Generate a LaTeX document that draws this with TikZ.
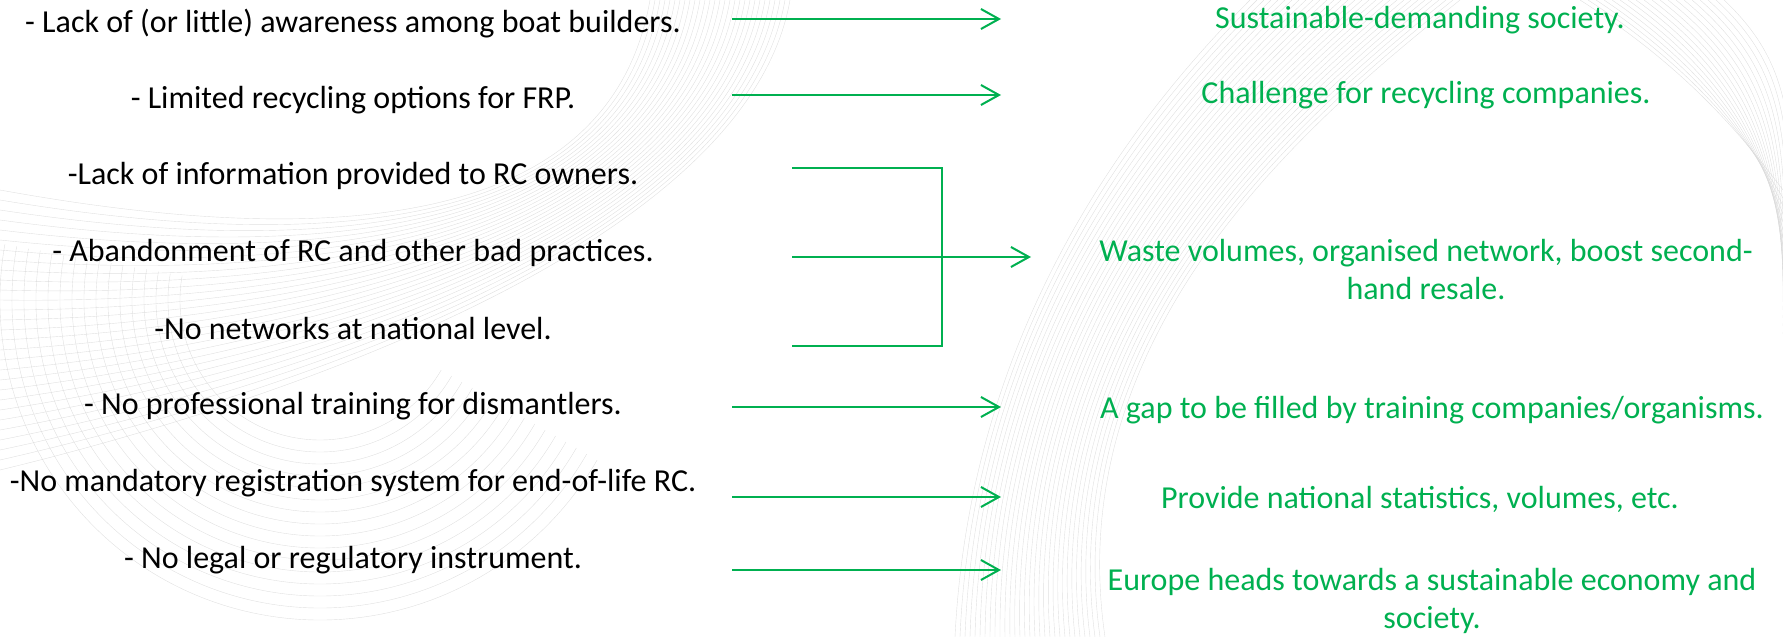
\documentclass[tikz,border=0pt]{standalone}
\usepackage{fontspec}
\setmainfont{Carlito}
\usetikzlibrary{arrows.meta}
\definecolor{grn}{HTML}{00B050}
\definecolor{swirl}{gray}{0.84}
\begin{document}
\begin{tikzpicture}[x=1pt,y=1pt,
  lt/.style={font=\fontsize{32}{38}\selectfont, text=black, inner sep=0pt, align=center},
  rt/.style={font=\fontsize{32}{38}\selectfont, text=grn, inner sep=0pt, align=center},
  conn/.style={draw=grn, line width=2.2pt},
  arr/.style={conn, -{Straight Barb[length=18pt,width=20pt,line width=2pt]}},
  sw/.style={draw=swirl, line width=0.4pt, opacity=0.75}]
\useasboundingbox (0,0) rectangle (1783,-637);
% faint background swirls
\begin{scope}
\clip (0,0) rectangle (1783,-637);
\foreach \i in {0,...,28} {
  \draw[sw] ({650+5*\i},0) .. controls ({610+5*\i},-230) and ({330},{-250-5*\i}) .. (0,{-190-10*\i});
}
\foreach \r in {140,152,...,320} {
  \draw[sw] (320,-300) ++(170:\r) arc[start angle=170,end angle=330,radius=\r];
}
\foreach \i in {0,...,30} {
  \draw[sw] ({1250+7*\i},0) .. controls ({1130+6*\i},-120) and ({970+3*\i},-330) .. ({955+5*\i},-637);
}
\foreach \i in {0,...,18} {
  \draw[sw] ({1580+8*\i},0) .. controls ({1690+6*\i},-70) and ({1745+3*\i},-140) .. (1783,{-190-8*\i});
}
\end{scope}
% left column
\node[lt] (l1) at (353,-24)  {- Lack of (or little) awareness among boat builders.};
\node[lt] (l2) at (353,-100) {- Limited recycling options for FRP.};
\node[lt] (l3) at (353,-176) {-Lack of information provided to RC owners.};
\node[lt] (l4) at (353,-253) {- Abandonment of RC and other bad practices.};
\node[lt] (l5) at (353,-329) {-No networks at national level.};
\node[lt] (l6) at (353,-406) {- No professional training for dismantlers.};
\node[lt] (l7) at (353,-483) {-No mandatory registration system for end-of-life RC.};
\node[lt] (l8) at (353,-560) {- No legal or regulatory instrument.};
% right column
\node[rt] (r1) at (1420,-20)  {Sustainable-demanding society.};
\node[rt] (r2) at (1426,-95)  {Challenge for recycling companies.};
\node[rt] (r3) at (1426,-270) {Waste volumes, organised network, boost second-\\hand resale.};
\node[rt] (r4) at (1432,-410) {A gap to be filled by training companies/organisms.};
\node[rt] (r5) at (1420,-499) {Provide national statistics, volumes, etc.};
\node[rt] (r6) at (1432,-601) {Europe heads towards a sustainable economy and\\society.};
% connector end points
\coordinate (s1) at (732,-19);  \coordinate (e1) at (1001,-19);
\coordinate (s2) at (732,-95);  \coordinate (e2) at (1001,-95);
\coordinate (b1) at (792,-168); \coordinate (v1) at (942,-168);
\coordinate (b2) at (792,-257); \coordinate (e3) at (1031,-257);
\coordinate (b3) at (792,-346); \coordinate (v3) at (942,-346);
\coordinate (s6) at (732,-407); \coordinate (e6) at (1001,-407);
\coordinate (s7) at (732,-497); \coordinate (e7) at (1001,-497);
\coordinate (s8) at (732,-570); \coordinate (e8) at (1001,-570);
% connectors
\draw[arr] (s1) -- (e1);
\draw[arr] (s2) -- (e2);
\draw[conn] (b1) -- (v1) -- (v3) -- (b3);
\draw[arr] (b2) -- (e3);
\draw[arr] (s6) -- (e6);
\draw[arr] (s7) -- (e7);
\draw[arr] (s8) -- (e8);
\end{tikzpicture}
\end{document}
